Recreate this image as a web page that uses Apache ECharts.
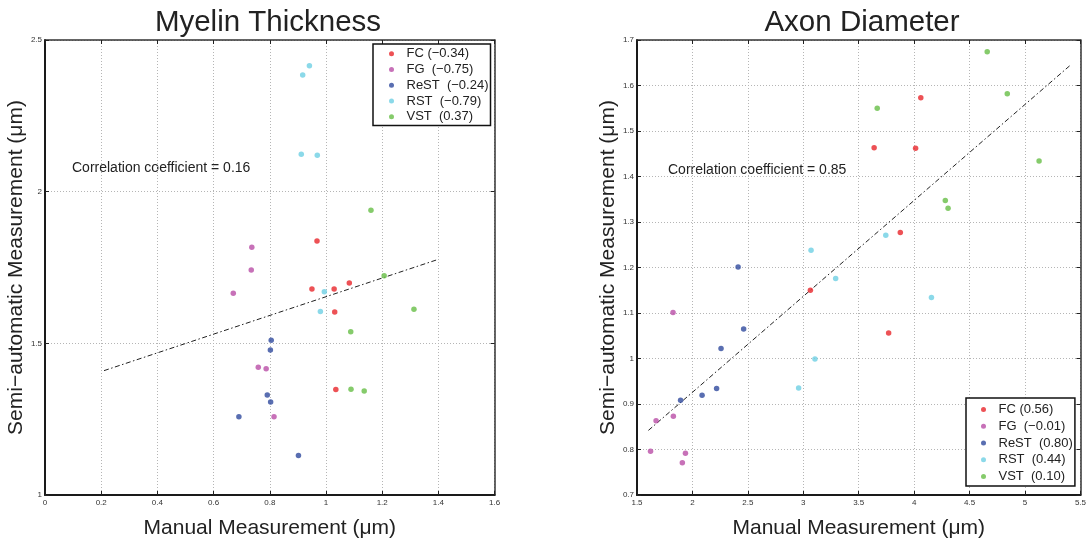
<!DOCTYPE html>
<html>
<head>
<meta charset="utf-8">
<script src="https://cdn.jsdelivr.net/npm/echarts@6/dist/echarts.min.js"></script>
<style>
  html, body { margin: 0; padding: 0; background: #fff; }
  #chart { width: 1089px; height: 544px; }
</style>
</head>
<body>
<div id="chart"></div>
<script>
// Group colours shared by both panels: FC, FG, ReST, RST, VST
const groupColors = ['#e9252b', '#b94ea6', '#2f4a9e', '#6ed0e3', '#67be46'];

// Myelin thickness: [manual, semi-automatic] in µm
const myelinFC   = [[0.968, 1.837], [0.950, 1.679], [1.029, 1.679], [1.083, 1.699], [1.031, 1.603], [1.035, 1.348]];
const myelinFG   = [[0.736, 1.817], [0.734, 1.742], [0.670, 1.665], [0.759, 1.421], [0.787, 1.416], [0.815, 1.258]];
const myelinReST = [[0.805, 1.510], [0.802, 1.478], [0.791, 1.330], [0.803, 1.307], [0.690, 1.258], [0.902, 1.130]];
const myelinRST  = [[0.917, 2.385], [0.941, 2.415], [0.912, 2.123], [0.969, 2.120], [0.994, 1.670], [0.980, 1.605]];
const myelinVST  = [[1.160, 1.939], [1.207, 1.723], [1.313, 1.612], [1.088, 1.538], [1.089, 1.349], [1.136, 1.343]];
const myelinFit  = [[0.21, 1.410], [1.40, 1.777]];
const myelinLegend = ['FC (\u22120.34)', 'FG  (\u22120.75)', 'ReST  (\u22120.24)', 'RST  (\u22120.79)', 'VST  (0.37)'];
const myelinCorr = '0.16';

// Axon diameter: [manual, semi-automatic] in µm
const axonFC   = [[4.060, 1.573], [3.639, 1.463], [4.013, 1.462], [3.875, 1.277], [3.064, 1.150], [3.770, 1.056]];
const axonFG   = [[1.825, 1.101], [1.672, 0.863], [1.828, 0.873], [1.622, 0.796], [1.937, 0.792], [1.909, 0.771]];
const axonReST = [[2.412, 1.201], [2.462, 1.065], [2.258, 1.022], [1.893, 0.908], [2.087, 0.919], [2.218, 0.934]];
const axonRST  = [[3.070, 1.238], [3.744, 1.271], [3.292, 1.176], [4.156, 1.134], [3.105, 0.999], [2.958, 0.935]];
const axonVST  = [[4.659, 1.674], [4.840, 1.582], [3.667, 1.550], [5.127, 1.434], [4.281, 1.347], [4.306, 1.330]];
const axonFit  = [[1.603, 0.842], [5.411, 1.645]];
const axonLegend = ['FC (0.56)', 'FG  (\u22120.01)', 'ReST  (0.80)', 'RST  (0.44)', 'VST  (0.10)'];
const axonCorr = '0.85';

// Axis ranges and tick steps
const myelinX = { min: 0, max: 1.6, step: 0.2 };
const myelinY = { min: 1, max: 2.5, step: 0.5 };
const axonX = { min: 1.5, max: 5.5, step: 0.5 };
const axonY = { min: 0.7, max: 1.7, step: 0.1 };

const FONT = '"Liberation Sans", Arial, Helvetica, sans-serif';
const xName = 'Manual Measurement (\u03bcm)';
const yName = 'Semi\u2212automatic Measurement (\u03bcm)';

function fmt(v) { return String(Math.round(v * 10) / 10); }

function mainX(grid, r) {
  return {
    type: 'value', gridIndex: grid, min: r.min, max: r.max, interval: r.step,
    name: xName, nameLocation: 'middle', nameGap: 23,
    nameTextStyle: { fontFamily: FONT, fontSize: 21, color: '#222' },
    axisLine: { show: true, onZero: false, lineStyle: { color: '#1a1a1a', width: 2 } },
    axisTick: { show: true, inside: true, length: 4, lineStyle: { color: '#222' } },
    axisLabel: { fontFamily: FONT, fontSize: 8, color: '#333', margin: 4, formatter: fmt },
    splitLine: { show: true, lineStyle: { color: '#b5b5b5', width: 1, type: [1, 2] } }
  };
}
function mainY(grid, r, gap) {
  return {
    type: 'value', gridIndex: grid, min: r.min, max: r.max, interval: r.step,
    name: yName, nameLocation: 'middle', nameGap: gap,
    nameTextStyle: { fontFamily: FONT, fontSize: 21, color: '#222' },
    axisLine: { show: true, onZero: false, lineStyle: { color: '#1a1a1a', width: 2 } },
    axisTick: { show: true, inside: true, length: 4, lineStyle: { color: '#222' } },
    axisLabel: { fontFamily: FONT, fontSize: 8, color: '#333', margin: 3, formatter: fmt },
    splitLine: { show: true, lineStyle: { color: '#b5b5b5', width: 1, type: [1, 2] } }
  };
}
// Mirrored axes on the top and right edges carry the frame and inner ticks
function edgeAxis(grid, r, pos) {
  return {
    type: 'value', gridIndex: grid, min: r.min, max: r.max, interval: r.step, position: pos,
    axisLine: { show: true, onZero: false, lineStyle: { color: '#333', width: 1.5 } },
    axisTick: { show: true, inside: true, length: 4, lineStyle: { color: '#222' } },
    axisLabel: { show: false }, splitLine: { show: false }
  };
}

function scatter(name, data, color, xi, yi) {
  return {
    type: 'scatter', name: name, data: data, xAxisIndex: xi, yAxisIndex: yi,
    symbol: 'circle', symbolSize: 5.5, itemStyle: { color: color }, z: 3
  };
}
function fitLine(data, xi, yi) {
  return {
    type: 'line', data: data, xAxisIndex: xi, yAxisIndex: yi, symbol: 'none', silent: true,
    lineStyle: { color: '#222', width: 1, type: [5, 2.5, 1.5, 2.5] }, z: 2
  };
}
function legendBox(names, left, top, pad, lh) {
  return {
    data: names, left: left, top: top, orient: 'vertical', selectedMode: false,
    icon: 'circle', itemWidth: 20, itemHeight: 5, itemGap: 0,
    padding: pad, backgroundColor: '#fff', borderColor: '#111', borderWidth: 1.5,
    textStyle: { fontFamily: FONT, fontSize: 13, color: '#222', lineHeight: lh }
  };
}

const myelinSets = [myelinFC, myelinFG, myelinReST, myelinRST, myelinVST];
const axonSets = [axonFC, axonFG, axonReST, axonRST, axonVST];

const series = [];
myelinSets.forEach((d, i) => series.push(scatter(myelinLegend[i], d, groupColors[i], 0, 0)));
series.push(fitLine(myelinFit, 0, 0));
axonSets.forEach((d, i) => series.push(scatter(axonLegend[i], d, groupColors[i], 1, 1)));
series.push(fitLine(axonFit, 1, 1));

const chart = echarts.init(document.getElementById('chart'), null, { renderer: 'canvas' });
chart.setOption({
  backgroundColor: '#fff',
  animation: false,
  title: [
    { text: 'Myelin Thickness', left: 263, top: 3, textAlign: 'center',
      textStyle: { fontFamily: FONT, fontSize: 29.5, fontWeight: 'normal', color: '#222' } },
    { text: 'Axon Diameter', left: 857, top: 3, textAlign: 'center',
      textStyle: { fontFamily: FONT, fontSize: 29.5, fontWeight: 'normal', color: '#222' } }
  ],
  grid: [
    { left: 45, top: 40, width: 449.6, height: 462 },
    { left: 637, top: 40, width: 450, height: 462 }
  ],
  xAxis: [mainX(0, myelinX), mainX(1, axonX), edgeAxis(0, myelinX, 'top'), edgeAxis(1, axonX, 'top')],
  yAxis: [mainY(0, myelinY, 16), mainY(1, axonY, 12), edgeAxis(0, myelinY, 'right'), edgeAxis(1, axonY, 'right')],
  legend: [
    legendBox(myelinLegend, 373, 44, [2, 2, 1, 16], 15.7),
    legendBox(axonLegend, 966, 398, [3, 2, 1, 15], 16.8)
  ],
  graphic: [
    { type: 'text', left: 72, top: 161,
      style: { text: 'Correlation coefficient = ' + myelinCorr, font: '14px ' + FONT, fill: '#222' } },
    { type: 'text', left: 668, top: 163,
      style: { text: 'Correlation coefficient = ' + axonCorr, font: '14px ' + FONT, fill: '#222' } }
  ],
  series: series
});
</script>
</body>
</html>
